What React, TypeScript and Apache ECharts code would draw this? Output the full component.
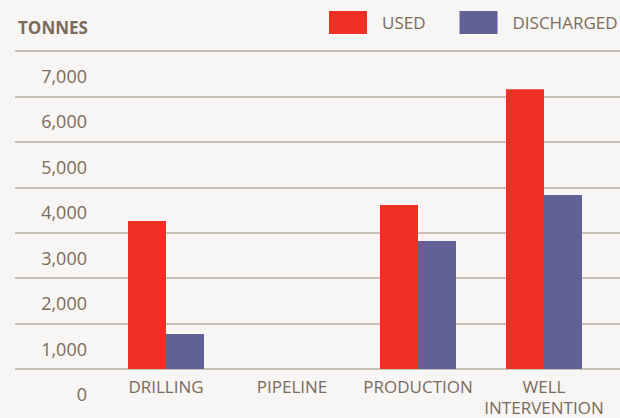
import React, { useEffect, useRef } from "react";
import * as echarts from "echarts";

const categories = ["DRILLING", "PIPELINE", "PRODUCTION", "WELL\nINTERVENTION"];
const usedValues = [3260, 0, 3610, 6160];
const dischargedValues = [770, 0, 2820, 3830];
const seriesNames = ["USED", "DISCHARGED"];
const axisTitle = "TONNES";

const TEXT = "#7b6b5a";
const GRID = "#b9afa5";
const FONT = "'Open Sans', 'Noto Sans', sans-serif";

export default function App() {
  const ref = useRef<HTMLDivElement>(null);
  useEffect(() => {
    if (!ref.current) return;
    const chart = echarts.init(ref.current, null, { renderer: "svg" });
    chart.setOption({
      animation: false,
      backgroundColor: "#f7f6f4",
      textStyle: { fontFamily: FONT },
      legend: {
        left: 329,
        top: 11,
        padding: 0,
        width: 291,
        icon: "rect",
        itemWidth: 38,
        itemHeight: 23,
        itemGap: 34,
        data: seriesNames,
        textStyle: { color: TEXT, fontSize: 17, fontFamily: FONT, padding: [0, 0, 0, 10] },
      },
      graphic: [
        {
          type: "text",
          left: 18,
          top: 19,
          style: { text: axisTitle, fill: TEXT, font: `bold 17px ${FONT}` },
        },
      ],
      grid: [
        { left: 15, right: 0, top: 51, bottom: 49 },
        { left: 103, right: 13, top: 51, bottom: 49 },
        { left: 15, right: 0, top: 76, bottom: 24 },
      ],
      xAxis: [
        { type: "value", gridIndex: 0, show: false, min: 0, max: 1 },
        {
          type: "category",
          gridIndex: 1,
          data: categories,
          axisLine: { show: false },
          axisTick: { show: false },
          axisLabel: {
            color: TEXT,
            fontSize: 17,
            fontFamily: FONT,
            lineHeight: 21,
            margin: 7,
            interval: 0,
          },
        },
        { type: "value", gridIndex: 2, show: false, min: 0, max: 1 },
      ],
      yAxis: [
        {
          type: "value",
          gridIndex: 0,
          min: 0,
          max: 7000,
          interval: 1000,
          axisLine: { show: false },
          axisTick: { show: false },
          axisLabel: { show: false },
          splitLine: { show: true, lineStyle: { color: GRID, width: 1.5 } },
        },
        {
          type: "value",
          gridIndex: 1,
          min: 0,
          max: 7000,
          show: false,
          splitLine: { show: false },
        },
        {
          type: "value",
          gridIndex: 2,
          min: 0,
          max: 7000,
          interval: 1000,
          axisLine: { show: false },
          axisTick: { show: false },
          splitLine: { show: false },
          axisLabel: {
            color: TEXT,
            fontSize: 18,
            fontFamily: FONT,
            margin: -72,
            align: "right",
            formatter: (v: number) => v.toLocaleString("en-US"),
          },
        },
      ],
      series: [
        {
          name: seriesNames[0],
          type: "bar",
          xAxisIndex: 1,
          yAxisIndex: 1,
          data: usedValues,
          barWidth: 38,
          barGap: "0%",
          itemStyle: { color: "#ee3124" },
        },
        {
          name: seriesNames[1],
          type: "bar",
          xAxisIndex: 1,
          yAxisIndex: 1,
          data: dischargedValues,
          barWidth: 38,
          barGap: "0%",
          itemStyle: { color: "#616198" },
        },
      ],
    });
    return () => chart.dispose();
  }, []);
  return <div ref={ref} style={{ width: 620, height: 418, position: "absolute", left: 0, top: 0 }} />;
}
